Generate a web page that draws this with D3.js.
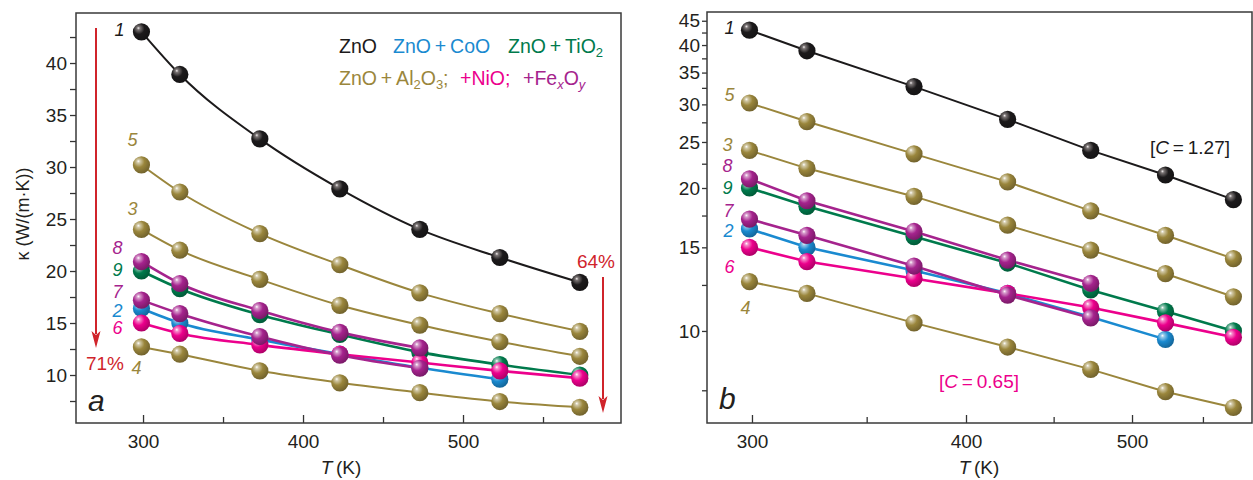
<!DOCTYPE html>
<html>
<head>
<meta charset="utf-8">
<script src="https://cdn.jsdelivr.net/npm/d3@7"></script>
<style>
  body { margin: 0; background: #fff; }
  text { font-family: "Liberation Sans", Arial, sans-serif; fill: #231f20; }
</style>
</head>
<body>
<div id="chart"></div>
<script>
(function () {
  // data
  const temps = [299, 323, 373, 423, 473, 523, 573];
  const kZnO   = [43.0, 38.9, 32.7, 27.9, 24.0, 21.3, 18.9];     // 1
  const kAl5   = [30.2, 27.6, 23.6, 20.6, 17.9, 15.9, 14.2];     // 5
  const kAl3   = [24.0, 22.0, 19.2, 16.7, 14.8, 13.2, 11.8];     // 3
  const kAl4   = [12.7, 12.0, 10.4, 9.25, 8.3, 7.45, 6.9];       // 4
  const kTiO2  = [20.0, 18.3, 15.8, 13.9, 12.2, 11.0, 10.0];     // 9
  const kCoO   = [16.4, 15.0, 13.4, 12.0, 10.7, 9.6];            // 2
  const kNiO   = [15.0, 14.0, 12.9, 12.0, 11.2, 10.4, 9.7];      // 6
  const kFe8   = [20.9, 18.8, 16.2, 14.1, 12.6];                 // 8
  const kFe7   = [17.2, 15.9, 13.7, 11.9, 10.65];                // 7

  const xMajor = [300, 400, 500];
  const xMinor = [350, 450, 550];
  const yMajorA = [10, 15, 20, 25, 30, 35, 40];
  const yMinorA = [7.5, 12.5, 17.5, 22.5, 27.5, 32.5, 37.5, 42.5];
  const yMajorB = [10, 15, 20, 25, 30, 35, 40, 45];
  const yMinorB = [7.5, 12.5, 17.5, 22.5, 27.5, 32.5, 37.5, 42.5];

  const C = {
    black: '#1c1a1b', olive: '#9a863c', green: '#007a4c',
    blue: '#1a8ad0', pink: '#ec008c', purple: '#a5238d', red: '#d0242b'
  };

  // draw order = list order
  const series = [
    { id: '5', color: C.olive,  values: kAl5 },
    { id: '3', color: C.olive,  values: kAl3 },
    { id: '4', color: C.olive,  values: kAl4 },
    { id: '1', color: C.black,  values: kZnO },
    { id: '9', color: C.green,  values: kTiO2 },
    { id: '2', color: C.blue,   values: kCoO },
    { id: '6', color: C.pink,   values: kNiO },
    { id: '8', color: C.purple, values: kFe8 },
    { id: '7', color: C.purple, values: kFe7 }
  ];

  // label offsets from the first point of each curve
  const labelOffA = { 1: [-22, -2], 5: [-9, -25], 3: [-9, -21], 8: [-24, -14], 9: [-24, -1],
                      7: [-24, -9], 2: [-24, 2], 6: [-24, 5], 4: [-5, 21] };
  const labelOffB = { 1: [-20, -3], 5: [-20, -8], 3: [-22, -6], 8: [-22, -13], 9: [-22, 0],
                      7: [-21, -9], 2: [-21, 2], 6: [-20, 19], 4: [-4, 26] };

  const W = 1253, H = 480;
  const svg = d3.select('#chart').append('svg')
    .attr('width', W).attr('height', H)
    .attr('viewBox', `0 0 ${W} ${H}`);

  // ball gradients
  const defs = svg.append('defs');
  Object.entries(C).forEach(([k, col]) => {
    const base = d3.color(col);
    const gr = defs.append('radialGradient').attr('id', 'ball-' + k)
      .attr('cx', '38%').attr('cy', '35%').attr('r', '68%')
      .attr('fx', '32%').attr('fy', '28%');
    const hi = k === 'black' ? '#f4f0f0' : '#ffffff';
    const mid = k === 'black' ? '#7a7474' : d3.interpolateRgb(col, '#fff')(0.55);
    gr.append('stop').attr('offset', '0%').attr('stop-color', hi);
    gr.append('stop').attr('offset', '14%').attr('stop-color', mid);
    gr.append('stop').attr('offset', '48%').attr('stop-color', base.formatHex());
    gr.append('stop').attr('offset', '100%').attr('stop-color', base.darker(0.9).formatHex());
  });
  const gradId = col => 'ball-' + Object.keys(C).find(k => C[k] === col);

  const panels = [
    {
      x: d3.scaleLinear().domain([258.1, 598.75]).range([76, 621]),
      y: d3.scaleLinear().domain([5.385, 44.81]).range([423, 13]),
      curve: d3.curveMonotoneX, yMajor: yMajorA, yMinor: yMinorA,
      ytick: 6, ypad: 3, off: labelOffA, letter: 'a', letterPos: [88, 411], titleX: 341
    },
    {
      x: d3.scaleLog().domain([282.4, 587.5]).range([707, 1252]),
      y: d3.scaleLog().domain([6.4, 46.95]).range([423, 12]),
      curve: d3.curveLinear, yMajor: yMajorB, yMinor: yMinorB,
      ytick: 5, ypad: 2, off: labelOffB, letter: 'b', letterPos: [719, 409], titleX: 979
    }
  ];

  panels.forEach(p => {
    const [x0, x1] = p.x.range();
    const [y0, y1] = p.y.range();
    const g = svg.append('g');

    // axes
    const styleAxis = a => {
      a.select('.domain').remove();
      a.selectAll('line').attr('stroke', '#333').attr('stroke-width', 1.3);
      a.selectAll('text').attr('font-size', 19).attr('fill', '#231f20')
        .attr('font-family', '"Liberation Sans", Arial, sans-serif');
    };
    g.append('g').attr('transform', `translate(0,${y0})`)
      .call(d3.axisBottom(p.x).tickValues(xMajor).tickFormat(d3.format('d'))
        .tickSize(-8).tickPadding(11.5)).call(styleAxis);
    g.append('g').attr('transform', `translate(0,${y0})`)
      .call(d3.axisBottom(p.x).tickValues(xMinor).tickFormat('').tickSize(-6)).call(styleAxis);
    g.append('g').attr('transform', `translate(${x0},0)`)
      .call(d3.axisLeft(p.y).tickValues(p.yMajor).tickFormat(d3.format('d'))
        .tickSize(p.ytick).tickPadding(p.ypad)).call(styleAxis);
    g.append('g').attr('transform', `translate(${x0},0)`)
      .call(d3.axisLeft(p.y).tickValues(p.yMinor).tickFormat('').tickSize(p.ytick)).call(styleAxis);

    // frame
    g.append('rect').attr('x', x0).attr('y', y1).attr('width', x1 - x0).attr('height', y0 - y1)
      .attr('fill', 'none').attr('stroke', '#3a3a3a').attr('stroke-width', 1.5);

    // x title
    const t = g.append('text').attr('x', p.titleX).attr('y', 474)
      .attr('text-anchor', 'middle').attr('font-size', 19);
    t.append('tspan').attr('font-style', 'italic').text('T');
    t.append('tspan').text('\u2009(K)');

    // lines
    const line = d3.line().x((d, i) => p.x(temps[i])).y(d => p.y(d)).curve(p.curve);
    series.forEach(s => {
      g.append('path').datum(s.values).attr('d', line)
        .attr('fill', 'none').attr('stroke', s.color)
        .attr('stroke-width', s.color === C.olive || s.color === C.black ? 2 : 2.6);
    });
    // balls
    series.forEach(s => {
      g.append('g').selectAll('circle').data(s.values).join('circle')
        .attr('cx', (d, i) => p.x(temps[i])).attr('cy', d => p.y(d))
        .attr('r', 8.6).attr('fill', `url(#${gradId(s.color)})`);
    });
    // curve numbers
    series.forEach(s => {
      const [dx, dy] = p.off[s.id];
      g.append('text')
        .attr('x', p.x(temps[0]) + dx).attr('y', p.y(s.values[0]) + dy)
        .attr('dy', '0.36em').attr('text-anchor', 'middle')
        .attr('font-size', 18).attr('font-style', 'italic')
        .style('fill', s.color).text(s.id);
    });

    // panel letter
    g.append('text').attr('x', p.letterPos[0]).attr('y', p.letterPos[1])
      .attr('font-family', '"Liberation Serif", "Times New Roman", serif')
      .attr('font-style', 'italic').attr('font-size', 30).text(p.letter);
  });

  // y title (left panel)
  svg.append('text').attr('transform', 'translate(29,214) rotate(-90)')
    .attr('text-anchor', 'middle').attr('font-size', 18)
    .text('\u03ba (W/(m\u00b7K))');

  // legend
  const leg = (x, y, parts) => {
    const t = svg.append('text').attr('x', x).attr('y', y).attr('font-size', 19.5);
    parts.forEach(([str, col, kind]) => {
      const ts = t.append('tspan').style('fill', col).text(str);
      if (kind === 'sub') ts.attr('font-size', 13).attr('dy', 4);
      if (kind === 'subi') ts.attr('font-size', 13).attr('dy', 4).attr('font-style', 'italic');
      if (kind === 'up') ts.attr('dy', -4);
    });
    return t;
  };
  const sp = '\u2009+\u2009';
  leg(339, 53, [['ZnO', C.black]]);
  leg(393, 53, [['ZnO' + sp + 'CoO', C.blue]]);
  leg(508, 53, [['ZnO' + sp + 'TiO', C.green], ['2', C.green, 'sub']]);
  leg(339, 85, [['ZnO' + sp + 'Al', C.olive], ['2', C.olive, 'sub'], ['O', C.olive, 'up'],
                ['3', C.olive, 'sub'], [';', C.olive, 'up']]);
  leg(460, 85, [['+NiO;', C.pink]]);
  leg(523, 85, [['+Fe', C.purple], ['x', C.purple, 'subi'], ['O', C.purple, 'up'],
                ['y', C.purple, 'subi']]);

  // red arrows
  const arrow = (x, ya, yb) => svg.append('line')
    .attr('x1', x).attr('x2', x).attr('y1', ya).attr('y2', yb - 14)
    .attr('stroke', C.red).attr('stroke-width', 2);
  const head = (x, yb) => svg.append('path')
    .attr('d', `M${x - 4.5},${yb - 17} L${x},${yb - 13} L${x + 4.5},${yb - 17} L${x},${yb} Z`)
    .attr('fill', C.red);
  arrow(96, 28, 348); head(96, 348);
  arrow(603, 277, 413); head(603, 413);
  svg.append('text').attr('x', 105).attr('y', 370).attr('text-anchor', 'middle')
    .attr('font-size', 19).style('fill', C.red).text('71%');
  svg.append('text').attr('x', 596).attr('y', 268).attr('text-anchor', 'middle')
    .attr('font-size', 19).style('fill', C.red).text('64%');

  // C annotations
  const ann = (x, y, val, col) => {
    const t = svg.append('text').attr('x', x).attr('y', y).attr('font-size', 19).style('fill', col);
    t.append('tspan').text('[');
    t.append('tspan').attr('font-style', 'italic').text('C');
    t.append('tspan').text('\u2009=\u2009' + val + ']');
  };
  ann(1150, 154, '1.27', C.black);
  ann(939, 388, '0.65', C.pink);
})();
</script>
</body>
</html>
